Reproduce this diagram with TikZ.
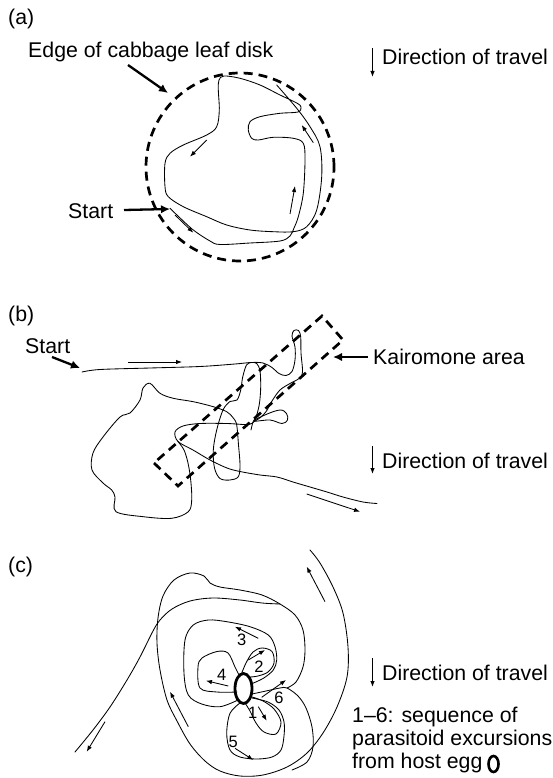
\documentclass[tikz,border=0pt]{standalone}
\usepackage{fontspec}
\setmainfont{Liberation Sans}
\usetikzlibrary{arrows.meta,shapes.geometric}
\begin{document}
\begin{tikzpicture}[x=1pt,y=-1pt,
  traj/.style={line width=0.85pt, line join=round, line cap=round},
  thinarrow/.style={line width=0.85pt,-{Latex[length=6pt,width=4.5pt]}},
  thickarrow/.style={line width=2.3pt,-{Latex[length=9pt,width=8.5pt]}},
  dirarrow/.style={line width=1.1pt,-{Latex[length=6pt,width=4.6pt]}},
  lbl/.style={font=\fontsize{21.3}{25}\selectfont, inner sep=0pt, anchor=base west},
  num/.style={font=\fontsize{16.5}{18}\selectfont, inner sep=0pt},
  dashedline/.style={line width=2.7pt, dash pattern=on 9pt off 6pt},
  eggshape/.style={ellipse, draw, line width=2.8pt, inner sep=0pt},
]
\useasboundingbox (0,0) rectangle (552,778);

% ---------------- (a) ----------------
\node[lbl] (la) at (8,25) {(a)};
\node[lbl] (edgelbl) at (28,58) {Edge of cabbage leaf disk};
\node[lbl] (starta) at (68,218) {Start};
\node[lbl] (dira) at (382,65) {Direction of travel};
\coordinate (dira1) at (372.5,48);
\coordinate (dira2) at (372.5,77);
\draw[dirarrow] (dira1) -- (dira2);

\node[circle, draw, dashedline, minimum size=188pt, inner sep=0pt] (disk) at (240,167) {};
\coordinate (edgefrom) at (128,65);
\coordinate (edgeto) at (168,93);
\draw[thickarrow] (edgefrom) -- (edgeto);
\coordinate (startafrom) at (124,210);
\coordinate (startato) at (170,209);
\draw[thickarrow] (startafrom) -- (startato);

\draw[traj] plot[smooth, tension=0.55] coordinates {
 (170,208.3) (178,216) (193.3,230) (210,241) (220,244.5) (250,243) (280,241) (290,236)
 (294,228) (298.3,216.7) (303.3,193.3) (305,160) (303.3,143.3) (293.3,138.3) (273.3,137.3)
 (258.3,140) (251.7,138.3) (248.3,130) (250,121.7) (260,116.7) (280,113.3) (298,112)
 (301,107) (296.7,103) (280,95) (260,85) (240,78.3) (224,76) (219,80) (218.3,90)
 (219.3,110) (216.7,126.7) (206.7,135) (183.3,145) (170,153.3) (165,163.3) (165,186.7)
 (168.3,196.7) (183.3,206.7) (206.7,216.7) (226.7,225) (250,230) (273.3,231.7) (293.3,231.7)
 (306.7,226.7) (316.7,210) (321.7,176.7) (320,146.7) (310,126.7) (296.7,108.3) (276.7,85)};

\draw[thinarrow] (175,215) -- (193.3,232.7);
\draw[thinarrow] (290,214) -- (295,186);
\draw[thinarrow] (313.3,142.7) -- (301.7,125);
\draw[thinarrow] (206.7,140) -- (190,156.7);

% ---------------- (b) ----------------
\node[lbl] (lb) at (8,321) {(b)};
\node[lbl] (startb) at (25,353) {Start};
\node[lbl] (kairo) at (373,364) {Kairomone area};
\node[lbl] (dirb) at (382,468) {Direction of travel};
\coordinate (dirb1) at (372.5,446);
\coordinate (dirb2) at (372.5,474);
\draw[dirarrow] (dirb1) -- (dirb2);

\coordinate (kA) at (154,463);
\coordinate (kB) at (178,486);
\coordinate (kC) at (343,340);
\coordinate (kD) at (322,316);
\draw[dashedline, line join=miter] (kA) -- (kB) -- (kC) -- (kD) -- cycle;

\coordinate (startbfrom) at (52,357);
\coordinate (startbto) at (80,368);
\draw[thickarrow] (startbfrom) -- (startbto);
\coordinate (kairofrom) at (368,357);
\coordinate (kairoto) at (333,357);
\draw[thickarrow] (kairofrom) -- (kairoto);

\draw[traj] plot[smooth, tension=0.55] coordinates {
 (82,372) (100,369.5) (150,368) (200,366.5) (235,364) (251,362.5) (263,363) (272,367.5)
 (279,373.5) (286,375.5) (292,371.5) (295,360) (295,347) (292,336) (294,330.5) (298.5,330.5)
 (300.7,337) (301,353) (302.5,372) (299,378.5) (290,383.5) (280,390) (272,401) (266.5,411)
 (261,417) (255,421) (248,424.5) (227,423.5) (200,423.5) (183,426) (175,432) (178,441.5)
 (193,450) (210,460) (227,468) (240,471.5) (260,475) (277,477) (293,482) (310,487)
 (327,492) (343,497) (363,502) (377,503.5)};

\draw[traj] plot[smooth, tension=0.55] coordinates {
 (251,430) (253,422) (256.7,415) (259.5,403) (260.7,387) (260,371) (256.7,363.5) (251.5,362.5)
 (246.5,365) (242.7,377) (240.7,390) (237,400) (230,401.5) (223,410) (216.7,430) (213.3,450)
 (214.5,468) (220,478.5) (230,480) (238.3,476.7) (240,465) (238.5,445) (236.7,425) (233.3,418)
 (226.7,411.7) (213.3,406.7) (193.3,401.7) (173.3,398.3) (160,393.3) (150,383.3) (143,388)
 (140,400) (130,413) (120,417) (103,437) (93,453) (92,470) (103,483) (111.7,490) (115,497)
 (116,511.7) (143.3,516.7) (171.7,518.3) (188.3,511.7) (191.7,500) (190.7,480) (188,463)
 (184,450) (178,441.5)};

\draw[traj] plot[smooth cycle, tension=0.6] coordinates {
 (254,421) (266,414.5) (280,410) (286.5,413.5) (287.5,420) (282,423.5) (270,420)};

\draw[thinarrow] (128,362) -- (182,362);
\draw[thinarrow] (306.7,494) -- (360,511.7);

% ---------------- (c) ----------------
\node[lbl] (lc) at (8,572) {(c)};
\node[lbl] (dirc) at (382,680) {Direction of travel};
\coordinate (dirc1) at (372.5,658);
\coordinate (dirc2) at (372.5,687);
\draw[dirarrow] (dirc1) -- (dirc2);
\node[lbl] (key1) at (352,722) {1–6: sequence of};
\node[lbl] (key2) at (352,745) {parasitoid excursions};
\node[lbl] (key3) at (352,768) {from host egg};
\node[eggshape, line width=2.6pt, minimum width=10pt, minimum height=16pt] (eggkey) at (493.5,764) {};

% outer paths
\draw[traj] plot[smooth, tension=0.55] coordinates {
 (75,752) (93,730) (110,707) (127,680) (140,657) (153,631) (160,620) (172,609) (190,601)
 (213,598) (240,600) (262,603) (280,604)};
\draw[traj] plot[smooth, tension=0.55] coordinates {
 (310,550) (320,563) (333,587) (343,613) (348,647) (347,677) (337,707) (323,733) (307,753)
 (287,767) (263,775) (240,776) (220,771) (205,761) (190,744) (177,721) (167,700) (160,670)
 (157,643) (158,618) (163,596) (174,580) (190,573) (204,576) (210,583) (220,587) (240,590)
 (262,595) (280,604) (295,615) (303,630) (305,650) (303,667) (296,682) (287,688)};
\draw[traj] plot[smooth, tension=0.55] coordinates {
 (252,694) (266,691) (280,688) (287,688) (298,696) (306,708) (312,727) (313,747) (307,762) (292,770)};

% petals
\draw[traj] plot[smooth, tension=0.55] coordinates {
 (238,700) (220,706.7) (201.7,704) (188.3,695) (184,673.3) (185,640) (193.3,625) (208.3,620)
 (226.7,621.7) (250,626.7) (268.3,635) (275,646.7) (276.7,660) (273.3,670) (263.3,678.3) (251,684)};
\draw[traj] plot[smooth, tension=0.55] coordinates {
 (237,692) (217,692) (200,688) (198,667) (202,658) (217,651.5) (228,653) (235,667) (240,677)};
\draw[traj] plot[smooth, tension=0.55] coordinates {
 (241,675) (246,663) (253,652) (262,648) (272,651.5) (274,663) (268,672) (258,676) (250,677)};
\draw[traj] plot[smooth, tension=0.55] coordinates {
 (245,703) (250,711) (256,723) (264,732) (276,734) (281,722) (274,709) (263,701) (252,697)};
\draw[traj] plot[smooth, tension=0.55] coordinates {
 (240,703) (230,713.3) (226.7,733.3) (230,750) (240,757) (256.7,759) (272,757) (281,750)
 (284,736) (284,722) (279,710) (268,702) (252,698)};

\node[eggshape, minimum width=17pt, minimum height=30pt] (egg) at (243.5,688.5) {};

% arrows (c)
\draw[thinarrow] (325,601.7) -- (306.7,566.7);
\draw[thinarrow] (188.3,726.7) -- (170,691.7);
\draw[thinarrow] (105,721.7) -- (86.7,751.7);
\draw[thinarrow] (258.3,638.3) -- (235,626.7);
\draw[thinarrow] (248.3,660) -- (265,650);
\draw[thinarrow] (228.3,686) -- (206,680.7);
\draw[thinarrow] (258.3,706.7) -- (266.7,720.7);
\draw[thinarrow] (235,748.3) -- (253.3,760);
\draw[thinarrow] (261.7,697.3) -- (286,680);

\node[num] (n3) at (241.7,640) {3};
\node[num] (n2) at (259,666.7) {2};
\node[num] (n4) at (221.7,675) {4};
\node[num] (n1) at (252.7,713.3) {1};
\node[num] (n5) at (233.3,741.7) {5};
\node[num] (n6) at (279,698) {6};
\end{tikzpicture}
\end{document}
